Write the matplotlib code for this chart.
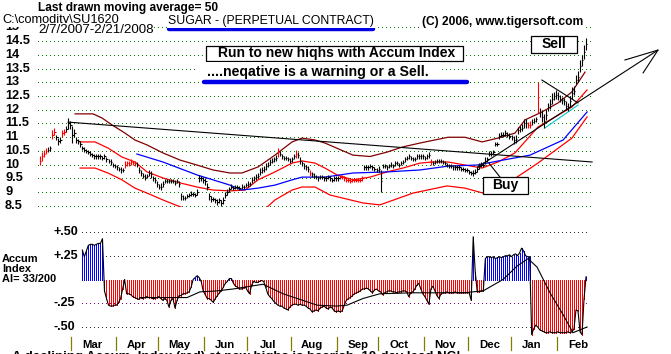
import numpy as np
import pandas as pd
import matplotlib
matplotlib.use("Agg")
import matplotlib.pyplot as plt
import matplotlib.transforms as mtransforms
from matplotlib.lines import Line2D
from matplotlib.patches import Rectangle

# pregões de 2/7/2007 a 2/21/2008
dias = pd.bdate_range("2007-02-07", "2008-02-21")

fechamento = [
    10.15, 10.3, 10.4, 10.5, 10.55, 10.6, 11.1, 11.2, 11.0, 10.85,
    10.9, 11.15, 11.2, 11.3, 11.5, 11.45, 11.1, 11.15, 10.9, 10.85,
    10.75, 10.6, 10.55, 10.5, 10.45, 10.4, 10.35, 10.3, 10.3, 10.3,
    10.3, 10.25, 10.3, 10.2, 10.15, 10.1, 10.0, 9.95, 9.9, 9.85,
    9.8, 9.8, 10.0, 10.05, 10.05, 10.1, 10.05, 10.05, 10.0, 9.8,
    9.7, 9.6, 9.55, 9.6, 9.7, 9.65, 9.5, 9.45, 9.3, 9.2,
    9.2, 9.3, 9.4, 9.4, 9.4, 9.4, 9.4, 9.35, 9.4, 9.3,
    8.85, 8.8, 8.8, 8.85, 8.9, 8.95, 8.95, 8.9, 9.0, 9.5,
    9.5, 9.45, 9.4, 9.2, 8.85, 8.75, 8.75, 8.7, 8.65, 8.7,
    8.6, 8.7, 8.9, 9.0, 9.1, 9.2, 9.15, 9.2, 9.2, 9.15,
    9.2, 9.2, 9.25, 9.3, 9.3, 9.45, 9.5, 9.55, 9.6, 9.75,
    9.8, 9.85, 9.95, 10.0, 10.1, 10.15, 10.2, 10.25, 10.45, 10.4,
    10.3, 10.25, 10.25, 10.2, 10.15, 10.2, 10.3, 10.4, 10.35, 10.15,
    10.05, 9.95, 9.9, 9.85, 9.7, 9.65, 9.6, 9.55, 9.5, 9.55,
    9.55, 9.5, 9.5, 9.55, 9.5, 9.45, 9.5, 9.5, 9.5, 9.55,
    9.55, 9.5, 9.45, 9.45, 9.4, 9.45, 9.45, 9.45, 9.45,
    9.45, 9.5, 9.9, 9.9, 9.9, 9.95, 9.9, 9.85, 9.8, 9.85,
    9.4, 9.95, 9.95, 9.9, 9.95, 10.0, 9.95, 10.05, 10.05, 10.0,
    10.05, 10.1, 10.2, 10.25, 10.3, 10.25, 10.2, 10.2, 10.3, 10.3,
    10.3, 10.3, 10.25, 10.3, 10.35, 10.1, 10.05, 10.1, 10.15, 10.15,
    10.15, 10.1, 10.05, 10.0, 9.95, 9.95, 9.9, 9.9, 9.9,
    9.9, 9.85, 9.85, 9.8, 9.8, 9.75, 9.7, 9.7, 9.75, 9.85,
    9.95, 10.0, 10.0, 10.15, 10.2, 10.4, 10.4, 10.45, 10.75, 10.75,
    11.05, 11.1, 11.1, 11.15, 11.1, 11.05, 11.0, 10.9, 10.95, 11.25,
    11.3, 11.35, 11.5, 11.5, 11.45, 11.45, 11.55, 11.6, 11.65, 12.45,
    11.9, 11.75, 11.6, 11.8, 12.1, 12.2, 12.4, 12.5, 12.55, 12.5,
    12.4, 12.35, 12.3, 12.15, 12.1, 12.3, 12.6, 12.7, 13.1, 13.2, 13.6, 13.8, 14.1, 14.4,
]

amplitude = [
    0.3, 0.3, 0.25, 0.25, 0.2, 0.2, 0.3, 0.25, 0.2, 0.25,
    0.2, 0.25, 0.2, 0.25, 0.4, 0.3, 0.6, 0.3, 0.25, 0.2,
    0.2, 0.15, 0.2, 0.15, 0.15, 0.2, 0.15, 0.15, 0.15, 0.15,
    0.15, 0.15, 0.15, 0.2, 0.15, 0.2, 0.15, 0.15, 0.2, 0.15,
    0.2, 0.15, 0.25, 0.2, 0.2, 0.2, 0.15, 0.2, 0.2, 0.2,
    0.2, 0.2, 0.2, 0.15, 0.2, 0.25, 0.2, 0.2, 0.2, 0.2,
    0.25, 0.2, 0.15, 0.15, 0.15, 0.15, 0.15, 0.2, 0.15, 0.2,
    0.25, 0.2, 0.15, 0.15, 0.15, 0.2, 0.15, 0.15, 0.2, 0.25,
    0.2, 0.2, 0.25, 0.25, 0.25, 0.2, 0.15, 0.15, 0.2, 0.2,
    0.2, 0.25, 0.25, 0.2, 0.2, 0.2, 0.15, 0.15, 0.15, 0.15,
    0.2, 0.15, 0.15, 0.2, 0.15, 0.2, 0.2, 0.2, 0.2, 0.25,
    0.2, 0.2, 0.25, 0.2, 0.25, 0.2, 0.2, 0.2, 0.3, 0.2,
    0.2, 0.15, 0.15, 0.15, 0.2, 0.2, 0.2, 0.3, 0.2, 0.25,
    0.2, 0.2, 0.2, 0.2, 0.2, 0.2, 0.2, 0.15, 0.15, 0.15,
    0.15, 0.15, 0.15, 0.15, 0.15, 0.15, 0.15, 0.15, 0.15, 0.15,
    0.15, 0.15, 0.15, 0.15, 0.15, 0.15, 0.15, 0.15, 0.15,
    0.15, 0.2, 0.2, 0.15, 0.15, 0.15, 0.15, 0.15, 0.15, 0.2,
    0.8, 0.15, 0.15, 0.15, 0.15, 0.2, 0.15, 0.2, 0.15, 0.15,
    0.15, 0.15, 0.2, 0.15, 0.2, 0.15, 0.15, 0.15, 0.15, 0.15,
    0.15, 0.15, 0.15, 0.15, 0.2, 0.25, 0.15, 0.15, 0.15, 0.15,
    0.15, 0.15, 0.15, 0.15, 0.15, 0.15, 0.15, 0.15, 0.15,
    0.15, 0.15, 0.15, 0.15, 0.15, 0.15, 0.15, 0.2, 0.2, 0.2,
    0.2, 0.2, 0.2, 0.25, 0.2, 0.2, 0.2, 0.2, 0.15, 0.15,
    0.2, 0.2, 0.2, 0.2, 0.2, 0.2, 0.2, 0.3, 0.3, 0.25,
    0.2, 0.25, 0.3, 0.3, 0.2, 0.25, 0.2, 0.2, 0.2, 1.1,
    0.3, 0.4, 0.5, 0.35, 0.3, 0.35, 0.4, 0.3, 0.3, 0.3,
    0.25, 0.25, 0.25, 0.3, 0.3, 0.4, 0.45, 0.3, 0.35, 0.4, 0.45, 0.4, 0.5, 0.45,
]

dias_vermelhos = [0, 1, 2, 3, 6, 7, 11, 12, 42, 43, 44, 45, 46, 47, 118, 127, 134,
                  149, 150, 151, 152, 153, 154, 155, 156, 157, 158, 159, 160,
                  194, 242, 243, 247]

# Accum Index (a partir do pregão 21)
ai_inicio = 21
accum = [
    0.31, 0.24, 0.3, 0.36, 0.37, 0.37, 0.36, 0.37, 0.38,
    0.38, 0.43, -0.12, -0.2, -0.27, -0.28, -0.28, -0.27, -0.27, -0.24,
    -0.2, -0.1, 0.0, -0.15, -0.15, -0.16, -0.18, -0.19, -0.2, -0.21,
    -0.19, -0.2, -0.19, -0.18, -0.19, -0.19, -0.2, -0.2, -0.19, -0.18,
    -0.2, -0.22, -0.2, -0.22, -0.29, -0.22, -0.2, -0.3, -0.22, -0.17,
    -0.17, -0.15, -0.15, -0.14, -0.13, -0.08, 0.0, 0.02, 0.04, 0.02,
    -0.02, -0.12, -0.16, -0.2, -0.2, -0.22, -0.24, -0.2, -0.17, -0.14,
    -0.12, -0.08, -0.04, -0.02, 0.01, 0.01, -0.04, -0.07, -0.08, -0.1,
    -0.1, -0.09, -0.08, -0.12, -0.15, -0.06, -0.02, -0.03, -0.03, -0.02,
    -0.01, -0.02, -0.08, -0.15, -0.18, -0.2, -0.23, -0.25, -0.27, -0.28,
    -0.28, -0.3, -0.31, -0.32, -0.29, -0.27, -0.26, -0.26, -0.27, -0.26,
    -0.27, -0.27, -0.28, -0.3, -0.31, -0.34, -0.33, -0.32, -0.33, -0.3,
    -0.29, -0.28, -0.3, -0.31, -0.29, -0.3, -0.33, -0.34, -0.33, -0.34,
    -0.33, -0.27, -0.22, -0.2, -0.19, -0.17, -0.15, -0.14, -0.13, -0.12,
    -0.1, -0.1, -0.09, -0.1, -0.12, -0.14, -0.11, -0.1, -0.12, -0.13,
    -0.16, -0.14, -0.13, -0.12, -0.12, -0.13, -0.13, -0.14, -0.13, -0.13,
    -0.12, -0.12, -0.13, -0.18, -0.14, -0.13, -0.1, -0.06, -0.04, -0.1,
    -0.15, -0.18, -0.22, -0.26, -0.1, -0.07, -0.12, -0.17, -0.2, -0.15,
    -0.14, -0.14, -0.13, -0.14, -0.14, -0.14, -0.13, -0.14, -0.14, -0.14,
    -0.14, -0.14, -0.14, -0.14, -0.22, 0.45, 0.08, -0.13, -0.13, -0.12,
    -0.12, 0.22, 0.24, 0.24, 0.23, 0.24, 0.22, 0.23, 0.24, 0.23,
    0.24, 0.25, 0.25, 0.26, 0.24, 0.26, 0.27, 0.25, 0.28, 0.33,
    0.3, 0.25, 0.24, 0.24, -0.58, -0.52, -0.48, -0.5, -0.53, -0.54,
    -0.55, -0.56, -0.56, -0.55, -0.56, -0.56, -0.56, -0.55, -0.56, -0.56,
    -0.56, -0.56, -0.55, -0.56, -0.55, -0.52, -0.32, -0.33, -0.55, -0.58, -0.2, 0.03,
]

# media do Accum Index
media_ai_d = [49.6, 73, 79.4, 87.8, 95.8, 110.7, 120.6, 137.5, 147.4, 152.4, 160.3, 168.7,
              185.1, 209.9, 219.9, 229.8, 236.7, 242.2, 246.7, 253.1, 259.6, 264.5, 271.5]
media_ai_v = [-0.19, -0.19, -0.13, -0.12, -0.10, -0.05, -0.15, -0.27, -0.28, -0.27, -0.20, -0.15,
              -0.14, -0.14, -0.12, 0.0, 0.14, 0.22, 0.13, -0.14, -0.37, -0.56, -0.5]

# bandas e media movel
banda_sup_d = [17.4, 26.3, 30.8, 35.7, 42.2, 47.1, 53.1, 61.0, 69.5, 77.9, 85.9, 94.3, 100.2,
               108.2, 116.6, 125.1, 130.0, 136.5, 141.4, 147.4, 155.3, 163.8, 172.2, 180.1,
               188.6, 202.5, 210.9, 219.4, 227.3, 235.7, 240.7, 249.1, 257.1, 264.0, 270.5]
banda_sup_p = [11.85, 11.85, 11.7, 11.45, 11.15, 10.9, 10.72, 10.43, 10.17, 9.99, 9.81, 9.7, 9.7,
               9.92, 10.35, 10.83, 10.97, 10.9, 10.79, 10.6, 10.35, 10.3, 10.46, 10.65,
               10.79, 11.0, 11.0, 10.83, 10.97, 11.15, 11.63, 11.92, 12.25, 12.65, 13.37]

banda_med_d = [19.9, 27.3, 33.7, 40.7, 47.1, 53.1, 61.0, 69.5, 77.9, 85.9, 94.3, 101.7, 108.2,
               116.6, 125.1, 130.0, 136.5, 141.4, 147.4, 155.3, 163.8, 172.2, 180.1, 188.6,
               194.5, 202.5, 210.9, 219.4, 227.3, 235.7, 247.1, 264.0, 271.5]
banda_med_p = [10.83, 10.83, 10.61, 10.28, 10.1, 9.74, 9.52, 9.34, 9.19, 9.08, 9.05, 9.08, 9.45,
               9.74, 10.06, 10.14, 10.06, 9.88, 9.63, 9.45, 9.55, 9.74, 9.88, 10.06,
               10.1, 10.1, 9.99, 9.88, 10.1, 10.43, 11.37, 12.1, 12.72]

banda_inf_d = [19.9, 27.3, 33.7, 40.7, 47.1, 53.1, 61.0, 71.0, 84.4, 99.3, 111.7, 116.6, 125.1,
               130.0, 136.5, 143.9, 160.3, 168.7, 185.1, 202.0, 210.9, 219.9, 236.7, 247.1,
               264.0, 271.5]
banda_inf_p = [9.88, 9.88, 9.7, 9.45, 9.15, 8.97, 8.72, 8.43, 8.0, 7.92, 8.39, 8.72, 9.08,
               9.19, 9.19, 8.9, 8.61, 8.54, 8.97, 9.23, 9.15, 8.97, 9.55, 10.06,
               10.97, 11.74]

mm50_d = [48.1, 61.0, 77.9, 94.3, 100.2, 108.2, 116.6, 125.1, 130.0, 141.4, 155.3, 172.2,
          188.6, 202.5, 216.9, 229.8, 243.2, 259.6, 271.5]
mm50_p = [10.39, 10.1, 9.63, 9.26, 9.08, 9.15, 9.26, 9.45, 9.55, 9.55, 9.7, 9.74,
          9.81, 9.95, 9.99, 10.17, 10.35, 10.9, 11.92]

# linhas desenhadas a mao (dia, preco)
lt_baixa = [(14, 11.55), (274, 10.1)]
lt_alta = [(217.4, 9.92), (306.7, 14.17)]
seta_a = [(290.3, 13.81), (306.7, 14.17), (299.3, 13.34)]
lt_jan = [(249.1, 13.08), (267.0, 12.25)]
lt_ciano = [(250.6, 11.34), (267.0, 12.17)]
ponteiro_buy = [(228.3, 9.55), (222.8, 10.06)]

niveis_preco = [15, 14.5, 14, 13.5, 13, 12.5, 12, 11.5, 11, 10.5, 10, 9.5, 9, 8.5]
niveis_ai = [0.5, 0.25, -0.25, -0.5]
rotulos_ai = ["+.50", "+.25", "-.25", "-.50"]

# ---------------- figura
W, H = 671.0, 354.0
fig = plt.figure(figsize=(W / 100, H / 100), dpi=100)
fig.patch.set_facecolor("white")


def fx(x):
    return x / W


def fy(y):
    return 1 - y / H


x0_px, passo = 40.0, 2.015
lim_x = (-x0_px / passo, (W - x0_px) / passo)

ax_p = fig.add_axes([0, fy(207.5), 1, 207.5 / H])
ax_p.set_xlim(*lim_x)
ax_p.set_ylim(8.5 - 1.5 / 27.5, 8.5 + 206 / 27.5)
ax_p.axis("off")

ax_a = fig.add_axes([0, 0, 1, (H - 212) / H])
ax_a.set_xlim(*lim_x)
ax_a.set_ylim(-(H - 279.5) / 95, (279.5 - 212) / 95)
ax_a.axis("off")

pontilhado = (0, (1, 3))
for nv in niveis_preco:
    ax_p.plot([-1, 274], [nv, nv], color="#008000", lw=0.72, ls=pontilhado, zorder=1,
              antialiased=False)

# barras de preco
c = np.array(fechamento)
r = np.array(amplitude)
x = np.arange(len(c))
cores = ["#ff0000" if i in dias_vermelhos else "black" for i in x]
ax_p.vlines(x, c - r / 2, c + r / 2, colors=cores, lw=0.8, zorder=4)
ax_p.hlines(c, x, x + 0.7, colors=cores, lw=0.8, zorder=4)

ax_p.plot(banda_sup_d, banda_sup_p, color="#800000", lw=0.9, zorder=3)
ax_p.plot(banda_med_d, banda_med_p, color="#ff0000", lw=0.9, zorder=3)
ax_p.plot(banda_inf_d, banda_inf_p, color="#ff0000", lw=0.9, zorder=3)
ax_p.plot(mm50_d, mm50_p, color="#0000ff", lw=0.9, zorder=3)

for linha, cor in [(lt_baixa, "black"), (lt_alta, "black"), (seta_a, "black"),
                   (lt_jan, "black"), (lt_ciano, "#00c8c8"), (ponteiro_buy, "black")]:
    xs, ys = zip(*linha)
    ax_p.plot(xs, ys, color=cor, lw=0.8, zorder=3, clip_on=False)

fonte = "Liberation Sans"
tr_p = mtransforms.blended_transform_factory(fig.transFigure, ax_p.transData)
for nv in niveis_preco:
    ax_p.text(fx(5), nv, "%g" % nv, transform=tr_p, fontsize=9.2, fontweight="bold",
              family=fonte, va="center", ha="left")

# ---------------- Accum Index
dias_ai = np.arange(ai_inicio, ai_inicio + len(accum))
v = np.array(accum)
cores_ai = ["#0000ff" if a > 0 else "#ff0000" for a in v]
ax_a.vlines(dias_ai, 0, v, colors=cores_ai, lw=0.72, zorder=2, antialiased=False)
ax_a.plot(dias_ai, v, color="black", lw=0.8, zorder=3)
ax_a.plot(media_ai_d, media_ai_v, color="black", lw=0.8, zorder=3)

for nv in niveis_ai:
    cor = "#800080" if nv == -0.25 else "#303030"
    ax_a.plot([21, 273], [nv, nv], color=cor, lw=0.72, ls=pontilhado, zorder=1,
              antialiased=False)

tr_a = mtransforms.blended_transform_factory(fig.transFigure, ax_a.transData)
for nv, rot in zip(niveis_ai, rotulos_ai):
    ax_a.text(fx(53), nv, rot, transform=tr_a, fontsize=9, fontweight="bold",
              family=fonte, va="center", ha="left")

# meses
tr_m = mtransforms.blended_transform_factory(ax_a.transData, fig.transFigure)
inicio_mes = [i for i in range(1, len(dias)) if dias[i].month != dias[i - 1].month]
for i in inicio_mes:
    ax_a.plot([i - 0.5, i - 0.5], [fy(337), fy(350)], transform=tr_m, color="#808000",
              lw=0.9, clip_on=False)
    ax_a.text(i + 10, fy(345), dias[i].strftime("%b"), transform=tr_m, fontsize=8.2,
              fontweight="bold", family=fonte, ha="center", va="center")

fig.text(fx(2), fy(258.5), "Accum", fontsize=7.9, fontweight="bold", family=fonte, va="center")
fig.text(fx(2), fy(268.5), "Index", fontsize=7.9, fontweight="bold", family=fonte, va="center")
fig.text(fx(2), fy(278.5), "AI= 33/200", fontsize=7.9, fontweight="bold", family=fonte,
         va="center")

# ---------------- textos do topo
branco = dict(facecolor="white", edgecolor="none", pad=0.6)
fig.text(fx(38), fy(8), "Last drawn moving average= 50", fontsize=8.6, fontweight="bold",
         family=fonte, va="center")
fig.text(fx(2), fy(20.5), "C:\\comodity\\SU1620", fontsize=9.2, family=fonte, va="center",
         bbox=branco)
fig.text(fx(38), fy(30), "2/7/2007-2/21/2008", fontsize=9.6, family=fonte, va="center",
         bbox=branco)
fig.text(fx(168), fy(21), "SUGAR - (PERPETUAL CONTRACT)", fontsize=8.8, family=fonte,
         va="center", bbox=branco)
fig.add_artist(Line2D([fx(169), fx(373)], [fy(29), fy(29)], lw=3.2, color="#0000e6",
                      solid_capstyle="round", transform=fig.transFigure))
fig.text(fx(422), fy(21.5), "(C) 2006, www.tigersoft.com", fontsize=8.65, fontweight="bold",
         family=fonte, va="center", bbox=branco)

fig.add_artist(Rectangle((fx(206), fy(61)), fx(463) - fx(206), 15 / H, facecolor="white",
                         edgecolor="black", lw=0.9, transform=fig.transFigure, zorder=2))
fig.add_artist(Rectangle((fx(198), fy(80)), fx(440) - fx(198), 18 / H, facecolor="white",
                         edgecolor="none", transform=fig.transFigure, zorder=2))
fig.text(fx(218), fy(53), "Run to new hiqhs with Accum Index", fontsize=10, fontweight="bold",
         family=fonte, va="center")
fig.text(fx(207), fy(72), "....neqative is a warning or a Sell.", fontsize=10.2,
         fontweight="bold", family=fonte, va="center")
fig.add_artist(Line2D([fx(204), fx(467)], [fy(81.5), fy(81.5)], lw=3.2, color="#0000e6",
                      solid_capstyle="round", transform=fig.transFigure))

fig.add_artist(Rectangle((fx(531), fy(53)), fx(577) - fx(531), 17 / H, facecolor="white",
                         edgecolor="black", lw=0.9, transform=fig.transFigure, zorder=2))
fig.text(fx(554), fy(44.5), "Sell", fontsize=10, fontweight="bold", family=fonte,
         ha="center", va="center")
fig.add_artist(Rectangle((fx(483), fy(194)), fx(528) - fx(483), 17 / H, facecolor="white",
                         edgecolor="black", lw=0.9, transform=fig.transFigure, zorder=2))
fig.text(fx(505.5), fy(185.5), "Buy", fontsize=10, fontweight="bold", family=fonte,
         ha="center", va="center")

# linha de comentario cortada na borda inferior, como no original
fig.text(fx(12), fy(351), "A declining Accum. Index (red) at new highs is bearish. 10-day lead NC!",
         fontsize=9.5, fontweight="bold", family=fonte, va="top")

fig.savefig("out.png", dpi=100)
